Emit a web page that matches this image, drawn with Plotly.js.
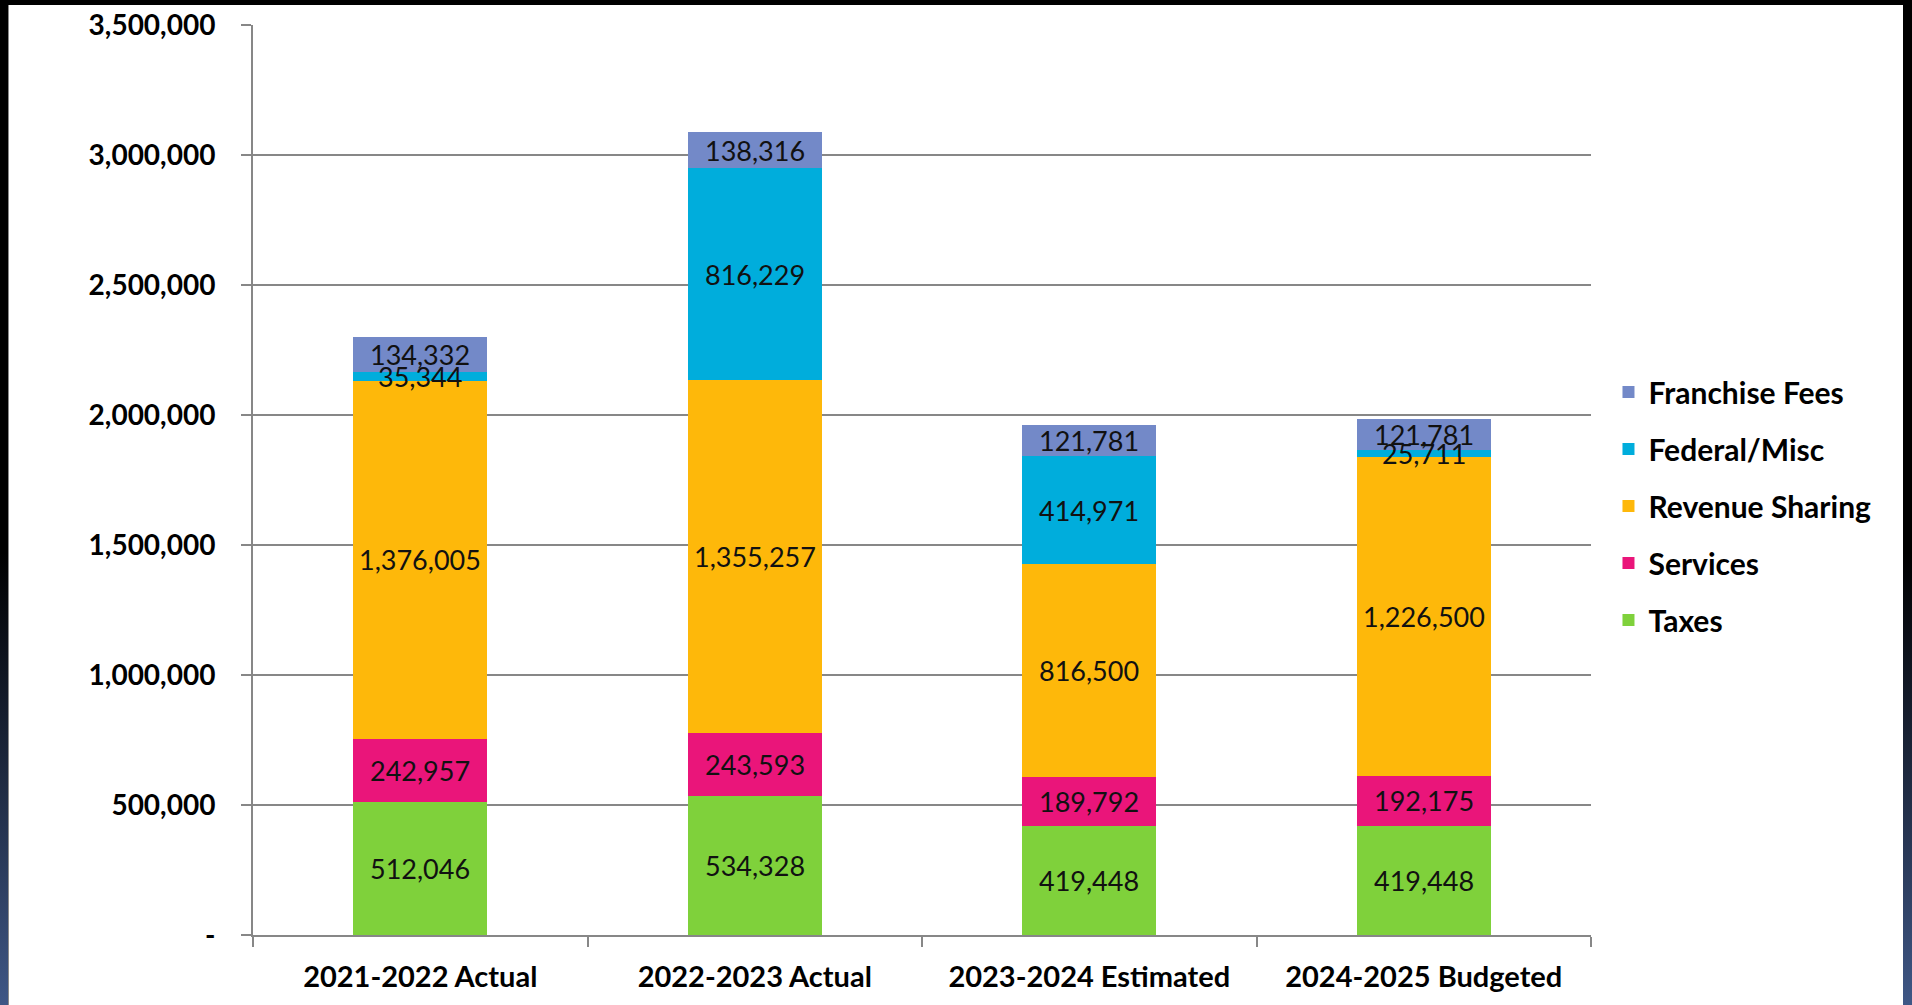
<!DOCTYPE html>
<html>
<head>
<meta charset="utf-8">
<script src="https://cdn.plot.ly/plotly-3.0.1.min.js"></script>
<style>
  html, body { margin: 0; padding: 0; width: 1912px; height: 1005px; overflow: hidden; }
  body { background: linear-gradient(to bottom, #000 0%, #000 55%, #1b2539 75%, #3f5786 100%); position: relative; }
  #chart { position: absolute; left: 8px; top: 5px; width: 1894px; height: 1000px; background: #fff;
           border-left: 1px solid #8a8a8a; border-right: 1px solid #8a8a8a; box-sizing: border-box; }
</style>
</head>
<body>
<div id="chart"></div>
<script>
// revenue by source, per fiscal year
const years = ['2021-2022 Actual', '2022-2023 Actual', '2023-2024 Estimated', '2024-2025 Budgeted'];

const taxes          = [512046, 534328, 419448, 419448];
const services       = [242957, 243593, 189792, 192175];
const revenueSharing = [1376005, 1355257, 816500, 1226500];
const federalMisc    = [35344, 816229, 414971, 25711];
const franchiseFees  = [134332, 138316, 121781, 121781];

const seriesNames  = ['Taxes', 'Services', 'Revenue Sharing', 'Federal/Misc', 'Franchise Fees'];
const seriesValues = [taxes, services, revenueSharing, federalMisc, franchiseFees];
const seriesColors = ['#7fd13b', '#ea157a', '#feb80a', '#00addc', '#7389c8'];

const yTickVals = [0, 500000, 1000000, 1500000, 2000000, 2500000, 3000000, 3500000];
const yTickText = ['-', '500,000', '1,000,000', '1,500,000', '2,000,000', '2,500,000', '3,000,000', '3,500,000'];

const FONT = 'Lato, "Liberation Sans", Arial, sans-serif';
const GRID = '#878787';

const traces = seriesNames.map((name, i) => ({
    type: 'bar',
    name: name,
    x: years,
    y: seriesValues[i],
    marker: { color: seriesColors[i], line: { width: 0 } },
    legendgroup: name,
    legendrank: seriesNames.length - i,   // top of the stack first
    hoverinfo: 'skip'
}));

// value labels go on top of every bar, centred in each segment
const annotations = [];
years.forEach((yr, j) => {
    let base = 0;
    seriesValues.forEach(vals => {
        annotations.push({
            x: yr,
            y: base + vals[j] / 2,
            xref: 'x',
            yref: 'y',
            text: vals[j].toLocaleString('en-US'),
            showarrow: false,
            font: { family: FONT, size: 27, color: '#111' }
        });
        base += vals[j];
    });
});

const layout = {
    width: 1894,
    height: 1000,
    margin: { l: 244, r: 312, t: 20, b: 70 },
    paper_bgcolor: '#ffffff',
    plot_bgcolor: '#ffffff',
    barmode: 'stack',
    bargap: 0.6,
    showlegend: true,
    legend: {
        xref: 'container',
        yref: 'container',
        x: 0.8445,
        y: 0.499,
        xanchor: 'left',
        yanchor: 'middle',
        traceorder: 'grouped',
        tracegroupgap: 15,
        font: { family: FONT, size: 30, color: '#000', weight: 'bold' },
        bgcolor: 'rgba(0,0,0,0)'
    },
    xaxis: {
        type: 'category',
        showline: true,
        linecolor: GRID,
        linewidth: 2,
        showgrid: false,
        ticks: 'outside',
        tickson: 'boundaries',
        ticklen: 10,
        tickwidth: 2,
        tickcolor: GRID,
        ticklabelstandoff: 15,
        tickfont: { family: FONT, size: 29, color: '#000', weight: 'bold' },
        fixedrange: true
    },
    yaxis: {
        range: [0, 3500000],
        tickvals: yTickVals,
        ticktext: yTickText,
        showline: true,
        linecolor: GRID,
        linewidth: 2,
        showgrid: true,
        gridcolor: GRID,
        gridwidth: 2,
        zeroline: false,
        ticks: 'outside',
        ticklen: 10,
        tickwidth: 2,
        tickcolor: GRID,
        ticklabelstandoff: 20,
        tickfont: { family: FONT, size: 28, color: '#000', weight: 'bold' },
        fixedrange: true
    },
    annotations: annotations
};

Plotly.newPlot('chart', traces, layout, { displayModeBar: false, staticPlot: true });
</script>
</body>
</html>
